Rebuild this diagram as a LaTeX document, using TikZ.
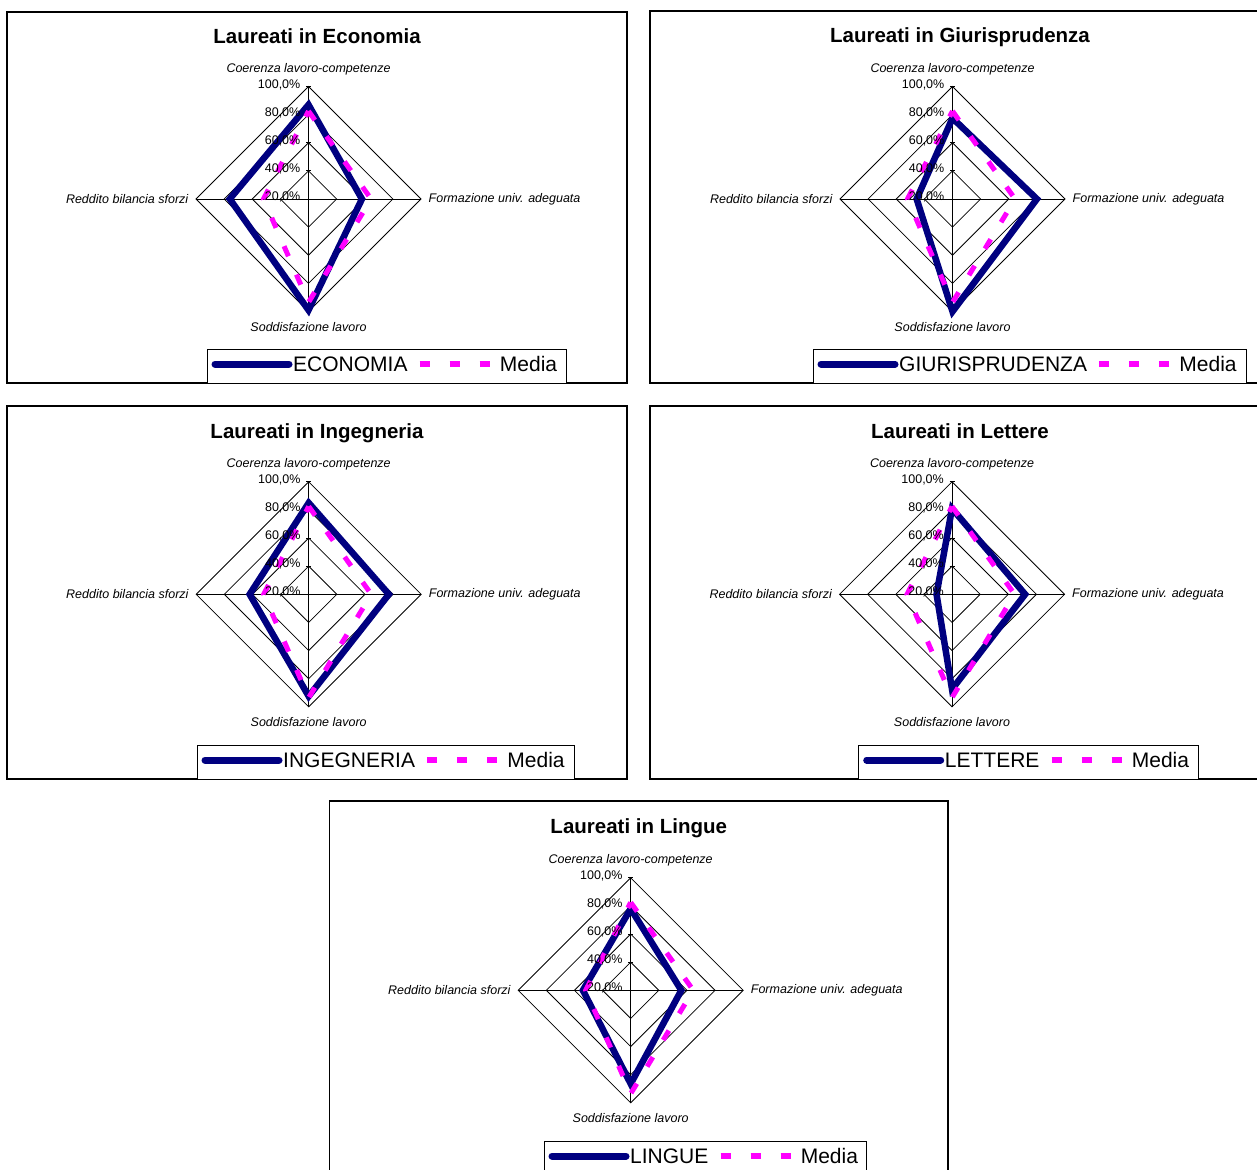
\documentclass[tikz,border=0pt]{standalone}
\usepackage{fontspec}
\setmainfont{Liberation Sans}
\definecolor{navyc}{RGB}{0,0,128}
\definecolor{magc}{RGB}{255,0,255}
\tikzset{
  gridline/.style={black, line width=0.8pt},
  chartbox/.style={draw=black, line width=1.3pt, fill=white},
  legbox/.style={draw=black, line width=1pt, fill=white},
  navyline/.style={draw=navyc, line width=6.5pt, line join=miter},
  navyleg/.style={draw=navyc, line width=7pt, line cap=round},
  medialine/.style={draw=magc, line width=5pt, dash pattern=on 11pt off 20pt},
  medialeg/.style={draw=magc, line width=6pt, dash pattern=on 10pt off 20pt},
  ttl/.style={font=\bfseries\fontsize{20.5}{24}\selectfont, inner sep=0},
  axlbl/.style={font=\itshape\fontsize{12.5}{15}\selectfont, inner sep=0},
  ticklbl/.style={font=\fontsize{12.5}{15}\selectfont, inner sep=0, anchor=east},
  legtxt/.style={font=\fontsize{21}{24}\selectfont, inner sep=0, anchor=base west},
}
\newcommand\mkchart[6]{%
  \draw[chartbox] (#1,#2) rectangle (#3,#4);
  \node[ttl, anchor=base] (#6-title) at ({(#1+#3)/2},#2+32) {#5};
}
\newcommand\mkgrid[1]{%
  \foreach \k in {1,2,3,4}{\draw[gridline] (0,-28.125*\k) -- (28.125*\k,0) -- (0,28.125*\k) -- (-28.125*\k,0) -- cycle;}
  \draw[gridline] (0,-112.5) -- (0,112.5) (-112.5,0) -- (112.5,0);
  \foreach \k in {0,...,4}{\draw[gridline] (-2.5,-28.125*\k) -- (2.5,-28.125*\k);}
  \node[axlbl] (#1-top) at (0,-130) {Coerenza lavoro-competenze};
  \node[axlbl] (#1-bot) at (0,128) {Soddisfazione lavoro};
  \node[axlbl, anchor=east] (#1-lft) at (-120,0) {Reddito bilancia sforzi};
  \node[axlbl, anchor=west] (#1-rgt) at (120,0) {Formazione univ. adeguata};
}
\newcommand\mkpoly[5]{%
  \pgfmathsetmacro\rvA{(#2-20)*112.5/80}%
  \pgfmathsetmacro\rvB{(#3-20)*112.5/80}%
  \pgfmathsetmacro\rvC{(#4-20)*112.5/80}%
  \pgfmathsetmacro\rvD{(#5-20)*112.5/80}%
  \draw[#1] (0,-\rvA) -- (\rvB,0) -- (0,\rvC) -- (-\rvD,0) -- cycle;
}
\newcommand\mkticks{%
  \foreach \k/\v in {0/20,1/40,2/60,3/80,4/100}{\node[ticklbl] at (-8,-28.125*\k-2) {\v,0\%};}
}
\newcommand\mklegend[6]{%
  \draw[legbox] (#1,#2) rectangle (#3,#4);
  \coordinate (#6-ls) at (#1+8,#2+15);
  \coordinate (#6-le) at (#1+82,#2+15);
  \draw[navyleg] (#6-ls) -- (#6-le);
  \node[legtxt] (#6-lt) at (#1+86,#2+22.5) {#5};
  \path (#6-lt.base east) ++(12,-7.5) coordinate (#6-ms) ++(70,0) coordinate (#6-me);
  \draw[medialeg] (#6-ms) -- (#6-me);
  \path (#6-me) ++(10,7.5) node[legtxt] (#6-mt) {Media};
}
\begin{document}
\begin{tikzpicture}[x=1pt,y=-1pt]
\useasboundingbox (0,0) rectangle (1257,1169);
\fill[white] (0,0) rectangle (1257,1169);
\clip (0,0) rectangle (1257,1169);
% Chart 1
\mkchart{7}{12}{627}{383}{Laureati in Economia}{c1}
\begin{scope}[shift={(308.5,199)}]
  \mkgrid{c1}
  \mkpoly{navyline}{87}{58}{99}{76}
  \mkpoly{medialine}{82.5}{64.5}{93.5}{52}
  \mkticks
\end{scope}
\mklegend{207}{349}{566}{383}{ECONOMIA}{c1}
% Chart 2
\mkchart{650}{11}{1270}{383}{Laureati in Giurisprudenza}{c2}
\begin{scope}[shift={(952.5,199)}]
  \mkgrid{c2}
  \mkpoly{navyline}{77.5}{80}{100}{45.5}
  \mkpoly{medialine}{82.5}{64.5}{93.5}{52}
  \mkticks
\end{scope}
\mklegend{813}{349}{1246}{383}{GIURISPRUDENZA}{c2}
% Chart 3
\mkchart{7}{406}{627}{779}{Laureati in Ingegneria}{c3}
\begin{scope}[shift={(308.7,594.3)}]
  \mkgrid{c3}
  \mkpoly{navyline}{85}{77}{92.5}{62}
  \mkpoly{medialine}{82.5}{64.5}{93.5}{52}
  \mkticks
\end{scope}
\mklegend{197}{745}{574.5}{779}{INGEGNERIA}{c3}
% Chart 4
\mkchart{650}{406}{1270}{779}{Laureati in Lettere}{c4}
\begin{scope}[shift={(952,594.3)}]
  \mkgrid{c4}
  \mkpoly{navyline}{81}{72}{87.5}{31}
  \mkpoly{medialine}{82.5}{64.5}{93.5}{52}
  \mkticks
\end{scope}
\mklegend{858.7}{745}{1198}{779}{LETTERE}{c4}
% Chart 5
\mkchart{329.5}{801}{948}{1185}{Laureati in Lingue}{c5}
\begin{scope}[shift={(630.7,990.3)}]
  \mkgrid{c5}
  \mkpoly{navyline}{78}{56}{86.5}{54}
  \mkpoly{medialine}{82.5}{64.5}{93.5}{52}
  \mkticks
\end{scope}
\mklegend{544}{1141}{866}{1185}{LINGUE}{c5}
\end{tikzpicture}
\end{document}
